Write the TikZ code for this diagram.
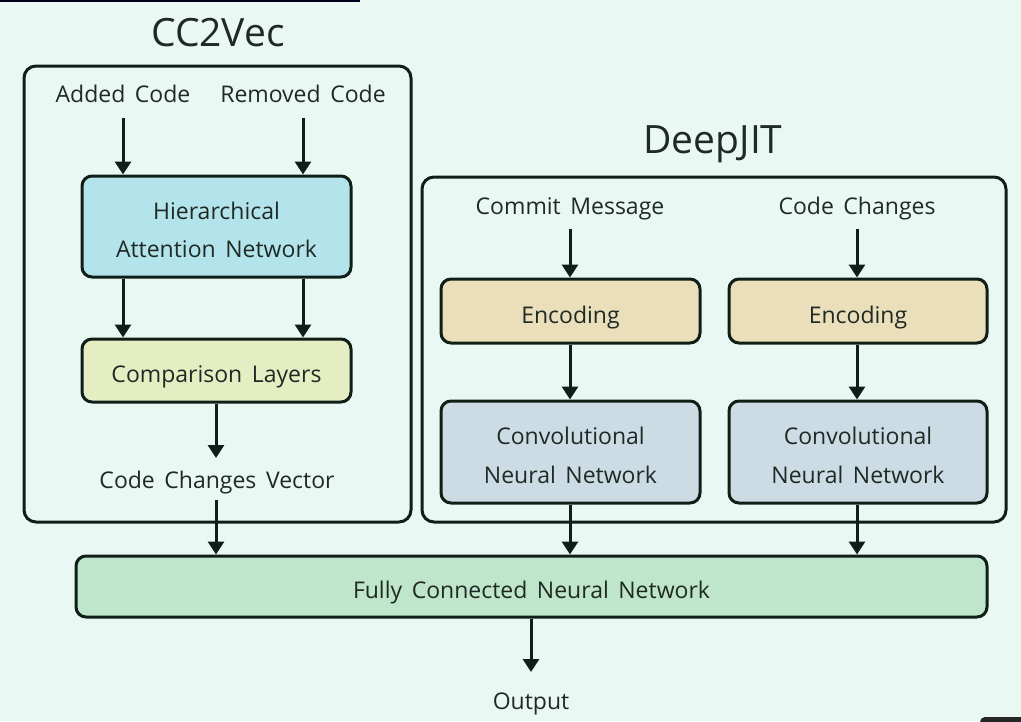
\documentclass[tikz,border=0pt]{standalone}
\usepackage{fontspec}
\setmainfont[WordSpace=1.6]{Open Sans}
\usetikzlibrary{arrows.meta}
\definecolor{bgC}{HTML}{EAF8F3}
\definecolor{lineC}{HTML}{0F1F18}
\definecolor{txtC}{HTML}{1F2A25}
\definecolor{hanC}{HTML}{B4E4EB}
\definecolor{cmpC}{HTML}{E5EDC2}
\definecolor{encC}{HTML}{EADFBA}
\definecolor{cnnC}{HTML}{CCDCE4}
\definecolor{fcC}{HTML}{BFE5CA}
\newcommand{\bxt}[1]{\raisebox{-4.5pt}[\height][\depth]{\begin{tabular}{@{}c@{}}#1\end{tabular}}}
\tikzset{
  lbl/.style={font=\fontsize{23}{28}\selectfont, text=txtC, inner sep=0pt, anchor=base},
  ttl/.style={font=\fontsize{39}{46}\selectfont, text=txtC, inner sep=0pt, anchor=base},
  box/.style={draw=lineC, line width=3pt, rounded corners=10pt, align=center,
    font=\fontsize{23}{38.4}\selectfont, text=txtC, inner sep=0pt},
  frame/.style={draw=lineC, line width=3pt, rounded corners=12pt, inner sep=0pt},
  arr/.style={draw=lineC, line width=3pt, -{Triangle[width=16pt,length=13pt]}},
}
\begin{document}
\begin{tikzpicture}[x=1pt,y=-1pt]
\fill[bgC] (0,0) rectangle (1021,721);
\useasboundingbox (0,0) rectangle (1021,721);
\fill[black!80!blue!60!black] (0,0) rectangle (360,2);
\fill[black!85, rounded corners=5pt] (980,717) rectangle (1040,740);
% titles
\node[ttl] (t1) at (218,46) {CC2Vec};
\node[ttl] (t2) at (713,153) {DeepJIT};
% frames
\node[frame, minimum width=387pt, minimum height=456pt] (f1) at (217.5,294) {};
\node[frame, minimum width=584pt, minimum height=345pt] (f2) at (714,349.5) {};
% CC2Vec
\node[lbl] (added) at (123,102) {Added Code};
\node[lbl] (removed) at (303,102) {Removed Code};
\node[box, fill=hanC, minimum width=269pt, minimum height=101pt] (han) at (216.5,226.5) {\bxt{Hierarchical\\Attention Network}};
\node[box, fill=cmpC, minimum width=269pt, minimum height=63pt] (cmp) at (216.5,370.5) {\bxt{Comparison Layers}};
\node[lbl] (ccv) at (217,488) {Code Changes Vector};
% DeepJIT
\node[lbl] (cm) at (570,214) {Commit Message};
\node[lbl] (cc) at (857,214) {Code Changes};
\node[box, fill=encC, minimum width=259pt, minimum height=64pt] (enc1) at (570.5,311) {\bxt{Encoding}};
\node[box, fill=encC, minimum width=258pt, minimum height=64pt] (enc2) at (858,311) {\bxt{Encoding}};
\node[box, fill=cnnC, minimum width=259pt, minimum height=102pt] (cnn1) at (570.5,452) {\bxt{Convolutional\\Neural Network}};
\node[box, fill=cnnC, minimum width=258pt, minimum height=102pt] (cnn2) at (858,452) {\bxt{Convolutional\\Neural Network}};
% bottom
\node[box, fill=fcC, minimum width=911pt, minimum height=61pt] (fc) at (531.5,586.5) {\bxt{Fully Connected Neural Network}};
\node[lbl] (out) at (531,709) {Output};
% arrow end points
\coordinate (sa) at (123,118);
\coordinate (sr) at (303,118);
\coordinate (ev) at (216,458);
\coordinate (sv) at (216,500);
\coordinate (sm) at (570,229);
\coordinate (sc) at (857,229);
\coordinate (eo) at (531,672);
% arrows
\draw[arr] (sa) -- (han.north -| sa);
\draw[arr] (sr) -- (han.north -| sr);
\draw[arr] (han.south -| sa) -- (cmp.north -| sa);
\draw[arr] (han.south -| sr) -- (cmp.north -| sr);
\draw[arr] (cmp.south -| ev) -- (ev);
\draw[arr] (sv) -- (fc.north -| sv);
\draw[arr] (sm) -- (enc1.north -| sm);
\draw[arr] (sc) -- (enc2.north -| sc);
\draw[arr] (enc1.south -| sm) -- (cnn1.north -| sm);
\draw[arr] (enc2.south -| sc) -- (cnn2.north -| sc);
\draw[arr] (cnn1.south -| sm) -- (fc.north -| sm);
\draw[arr] (cnn2.south -| sc) -- (fc.north -| sc);
\draw[arr] (fc.south -| eo) -- (eo);
\end{tikzpicture}
\end{document}
